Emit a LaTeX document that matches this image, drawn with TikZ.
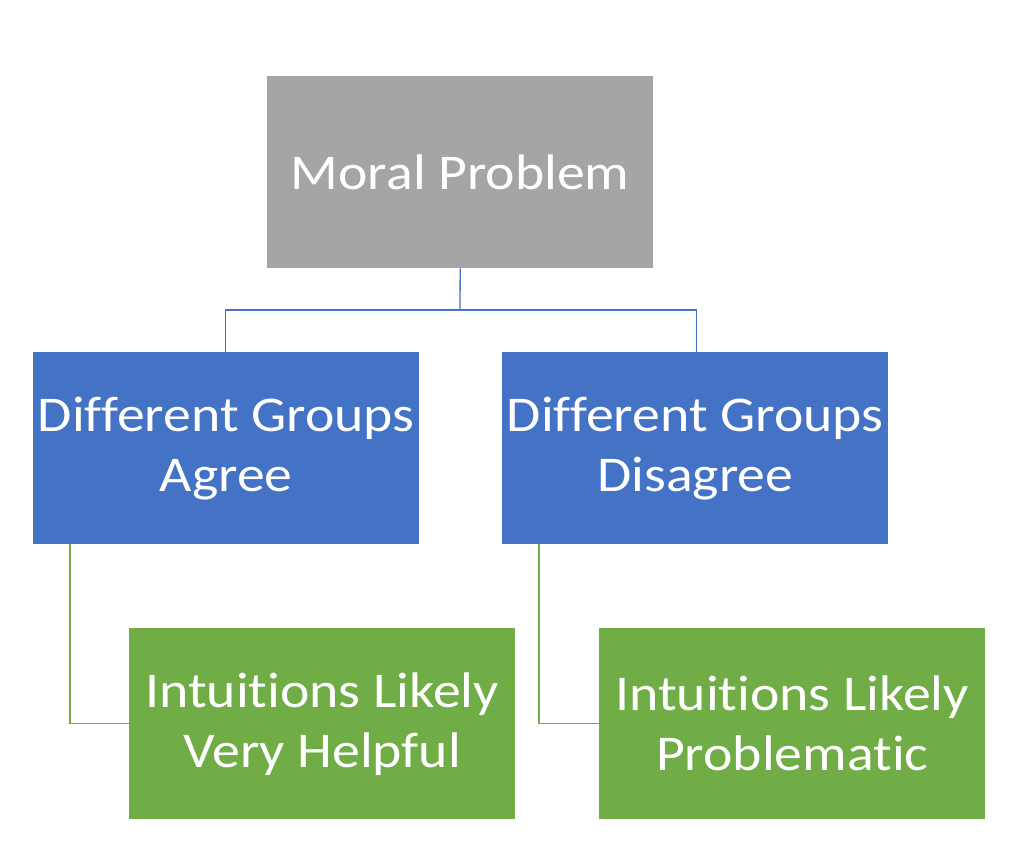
\documentclass[tikz,border=0pt]{standalone}
\usepackage{fontspec}
\setmainfont{Carlito}[FakeStretch=1.115,Ligatures=NoCommon]
\definecolor{cgray}{HTML}{A5A5A5}
\definecolor{cblue}{HTML}{4472C4}
\definecolor{cgreen}{HTML}{70AD47}
\begin{document}
\begin{tikzpicture}[x=1pt,y=-1pt,
  box/.style={draw=none,minimum width=386pt,minimum height=192pt,text=white,align=center,
    font=\fontsize{50}{60}\selectfont,inner sep=0pt,anchor=north west},
  grayb/.style={box,fill=cgray},
  blueb/.style={box,fill=cblue},
  greenb/.style={box,fill=cgreen,minimum height=191pt},
  bluel/.style={draw=cblue,line width=1.3pt},
  greenl/.style={draw=cgreen,line width=1.3pt}]
\useasboundingbox (0,0) rectangle (1024,842);
\node[grayb] (top) at (267,76) {Moral Problem};
\node[blueb] (agree) at (33,352) {Different Groups\\Agree};
\node[blueb] (dis) at (502,352) {Different Groups\\Disagree};
\node[greenb] (help) at (129,628) {Intuitions Likely\\Very Helpful};
\node[greenb] (prob) at (599,628) {Intuitions Likely\\Problematic};
\coordinate (j) at (460,310);
\draw[bluel] (top.south) -- (j);
\draw[bluel] (j) -| ([xshift=-1pt]agree.north);
\draw[bluel] (j) -| ([xshift=1pt]dis.north);
\draw[greenl] (agree.south west) ++(37,0) |- (help.west);
\draw[greenl] (dis.south west) ++(37,0) |- (prob.west);
\end{tikzpicture}
\end{document}
